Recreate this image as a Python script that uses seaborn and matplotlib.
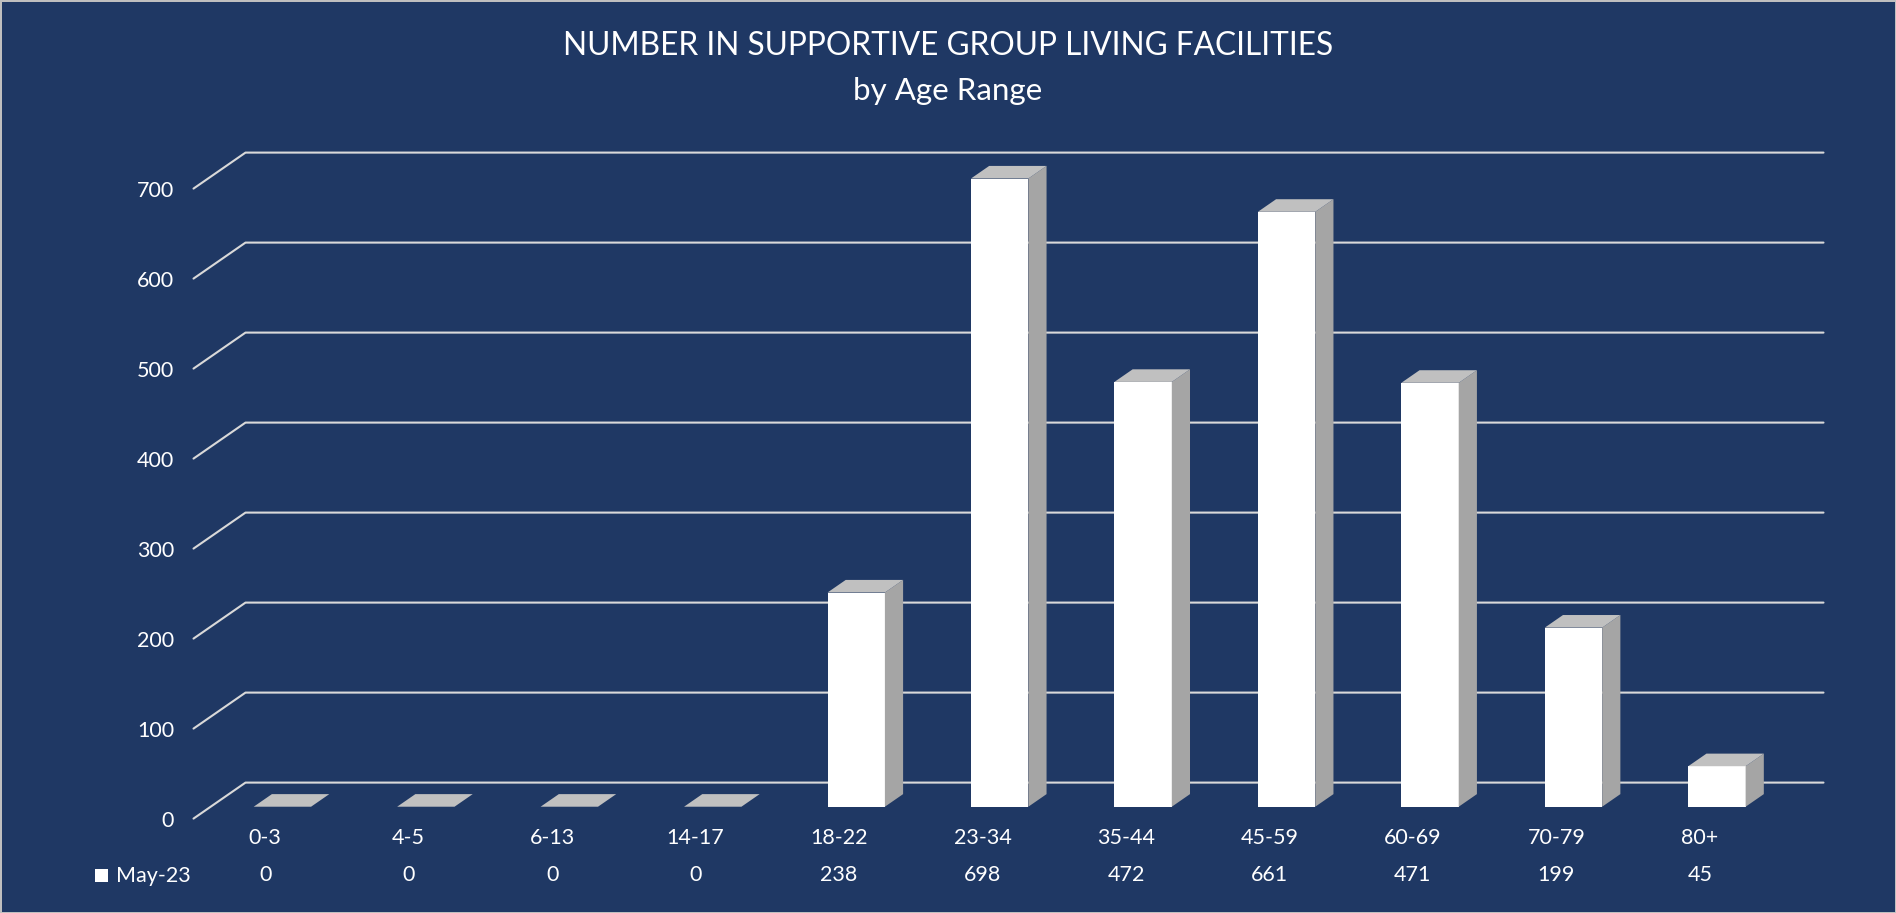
import matplotlib
matplotlib.use("Agg")
import matplotlib.pyplot as plt
import matplotlib.transforms as mtransforms
from matplotlib.patches import Polygon, Rectangle
import pandas as pd
import seaborn as sns

age_ranges = ["0-3", "4-5", "6-13", "14-17", "18-22", "23-34",
              "35-44", "45-59", "60-69", "70-79", "80+"]
may_23 = [0, 0, 0, 0, 238, 698, 472, 661, 471, 199, 45]
y_ticks = [0, 100, 200, 300, 400, 500, 600, 700]
series_name = "May-23"
title_lines = ["NUMBER IN SUPPORTIVE GROUP LIVING FACILITIES", "by Age Range"]

NAVY = "#1F3864"
GRID = "#D9D9D9"
FRONT = "#FFFFFF"
SIDE = "#A5A5A5"
TOP = "#C0C0C0"

# fake 3-D: depth of the wall in data units (categories, values)
DX, DY = 0.3625, 40
BAR_FRONT, BAR_BACK = 0.33, 0.68
BAR_W = 0.4
FS = 15.5

sns.set_theme(style="white")
plt.rcParams["font.family"] = ["Lato", "DejaVu Sans"]

df = pd.DataFrame({"age": age_ranges, "count": may_23})

W, H = 1896, 913
fig = plt.figure(figsize=(W / 100, H / 100), dpi=100, facecolor=NAVY)
fig.patch.set_edgecolor("#BFBFBF")
fig.patch.set_linewidth(2)
ax = fig.add_axes([193.5 / W, 94.4 / H, 1578 / W, 630 / H])
ax.set_facecolor("none")

sns.barplot(data=df, x="age", y="count", color=FRONT, width=BAR_W,
            saturation=1, linewidth=0, edgecolor="none", ax=ax, zorder=3)
ax.set_xlim(-0.5, len(age_ranges) - 0.5)
ax.set_ylim(0, 700)

# push the front faces into the floor a bit
d0x, d0y = BAR_FRONT * DX, BAR_FRONT * DY
bdx, bdy = (BAR_BACK - BAR_FRONT) * DX, (BAR_BACK - BAR_FRONT) * DY
shift = mtransforms.Affine2D().translate(d0x, d0y) + ax.transData
for p in ax.patches:
    p.set_transform(shift)
    p.set_clip_on(False)

for i, v in enumerate(may_23):
    xl = i - BAR_W / 2 + d0x
    xr = i + BAR_W / 2 + d0x
    y0, y1 = d0y, v + d0y
    top = [(xl, y1), (xr, y1), (xr + bdx, y1 + bdy), (xl + bdx, y1 + bdy)]
    side = [(xr, y0), (xr, y1), (xr + bdx, y1 + bdy), (xr + bdx, y0 + bdy)]
    ax.add_patch(Polygon(side, closed=True, facecolor=SIDE, edgecolor="none",
                         zorder=3, clip_on=False))
    ax.add_patch(Polygon(top, closed=True, facecolor=TOP, edgecolor="none",
                         zorder=3, clip_on=False))

# back wall gridlines with the diagonal on the left side wall
x_left, x_right = -0.5, len(age_ranges) - 0.5
for t in y_ticks:
    ax.plot([x_left, x_left + DX, x_right + DX], [t, t + DY, t + DY],
            color=GRID, lw=1.5, zorder=1, clip_on=False)

for s in ax.spines.values():
    s.set_visible(False)
ax.set_xlabel("")
ax.set_ylabel("")
ax.set_yticks(y_ticks)
ax.tick_params(axis="y", colors="white", length=0, labelsize=FS, pad=14)
ax.tick_params(axis="x", colors="white", length=0, labelsize=FS, pad=7)

# data table row
for i, v in enumerate(may_23):
    ax.text(i, -0.0903, str(v), transform=ax.get_xaxis_transform(),
            ha="center", va="center", color="white", fontsize=FS)
fig.text(116 / W, 1 - 875.5 / H, series_name, ha="left", va="center",
         color="white", fontsize=FS)
fig.add_artist(Rectangle((95 / W, 1 - 882 / H), 13 / W, 13 / H,
                         transform=fig.transFigure, facecolor="white",
                         edgecolor="none"))

fig.text(0.5, 1 - 46 / H, title_lines[0], ha="center", va="center",
         color="white", fontsize=22.8)
fig.text(0.5, 1 - 91 / H, title_lines[1], ha="center", va="center",
         color="white", fontsize=22.5)

fig.savefig("out.png", dpi=100)
